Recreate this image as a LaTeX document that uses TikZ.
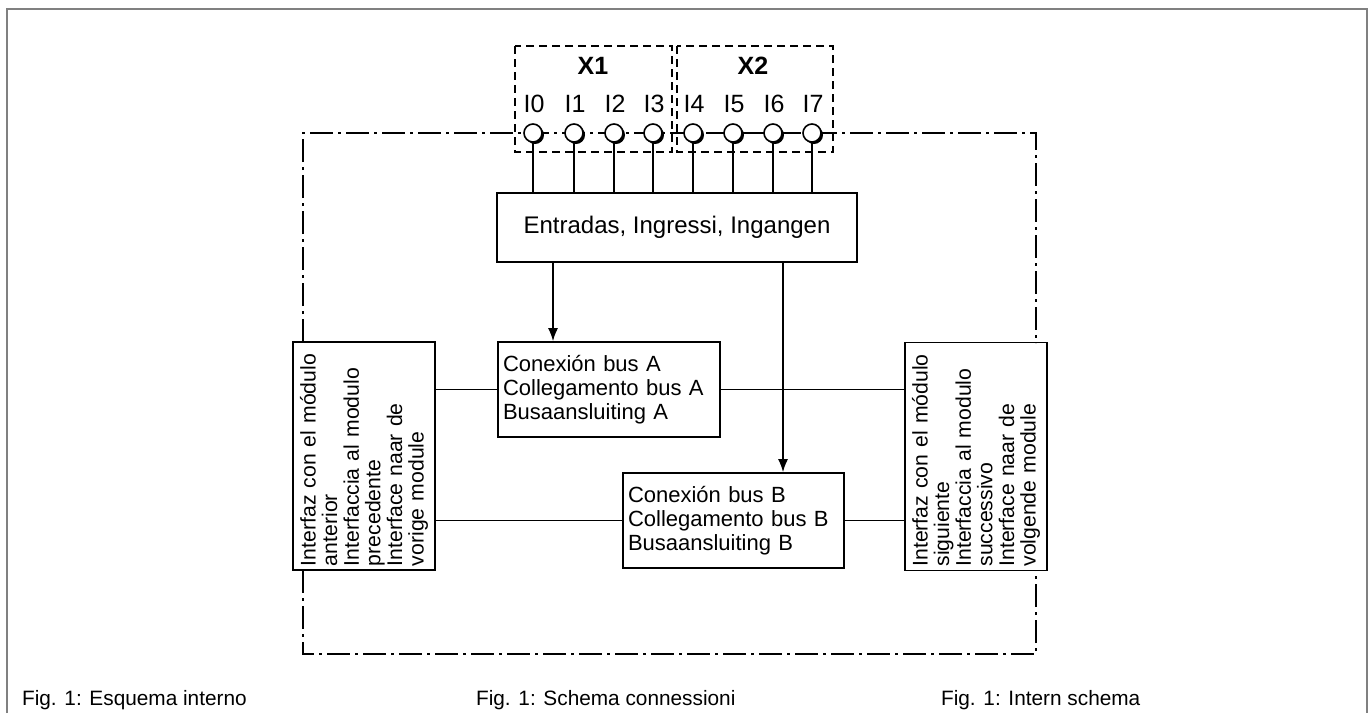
\documentclass[tikz,border=0pt]{standalone}
\usepackage{fontspec}
\setmainfont{Liberation Sans}
\usetikzlibrary{arrows.meta}

\tikzset{
  box/.style={draw, line width=0.8pt, inner sep=0pt},
  txtbox/.style={box, align=left, inner xsep=2.5pt, font=\fontsize{11}{12}\selectfont},
  sidebox/.style={box, rotate=90, align=left, inner xsep=2pt, minimum width=114pt, minimum height=71pt, text width=110pt, font=\fontsize{10.6}{10.8}\selectfont},
  ddash/.style={line width=0.7pt, dash pattern=on 11.5pt off 2.5pt on 1.5pt off 2.5pt},
  xbox/.style={line width=0.7pt, dash pattern=on 4pt off 2.5pt},
  wire/.style={line width=0.8pt},
  pin/.style={circle, draw, line width=0.8pt, fill=white, minimum size=9pt, inner sep=0pt},
  caption/.style={anchor=west, font=\fontsize{10.4}{12}\selectfont}
}

\begin{document}
\begin{tikzpicture}[x=0.5pt, y=-0.5pt]
\useasboundingbox (0,0) rectangle (1371,713);
% page frame
\draw[gray, line width=1pt] (7,713) -- (7,9) -- (1367,9) -- (1367,713);

% module outline
\draw[ddash] (303,342) -- (303,133) -- (1036,133) -- (1036,343);
\draw[ddash] (303,570) -- (303,654) -- (1036,654) -- (1036,570);

% connectors X1, X2
\draw[xbox] (515,46) rectangle (672,152);
\draw[xbox] (677,46) rectangle (833,152);
\node[font=\bfseries\fontsize{12.5}{14}\selectfont] (x1) at (593,66) {X1};
\node[font=\bfseries\fontsize{12.5}{14}\selectfont] (x2) at (753,66) {X2};

% blocks
\node[box, minimum width=180pt, minimum height=34.5pt, font=\fontsize{12}{13}\selectfont] (entr) at (677,227.5) {Entradas, Ingressi, Ingangen};
\node[txtbox, minimum width=111pt, minimum height=47.5pt, text width=106pt] (busA) at (609,389.5)
  {Conexión bus A\\Collegamento bus A\\Busaansluiting A};
\node[txtbox, minimum width=110.5pt, minimum height=47.5pt, text width=105.5pt] (busB) at (733.5,520.5)
  {Conexión bus B\\Collegamento bus B\\Busaansluiting B};
\node[sidebox] (prev) at (364,456)
  {Interfaz con el módulo\\anterior\\Interfaccia al modulo\\precedente\\Interface naar de\\vorige module};
\node[sidebox] (next) at (976,456.5)
  {Interfaz con el módulo\\siguiente\\Interfaccia al modulo\\successivo\\Interface naar de\\volgende module};

% inputs
\foreach \x [count=\i from 0] in {533,574,614,653,693,733,773,812} {
  \draw[wire] (\x,133) -- (\x,193);
  \fill (\x+2,135) circle (9);
  \node[pin] (pin\i) at (\x,133) {};
  \node[font=\fontsize{12.5}{14}\selectfont] (lab\i) at (\x+1,104) {I\i};
}

% arrows
\coordinate (ca) at (553,0);
\coordinate (cb) at (783,0);
\draw[wire, -{Latex[length=6.5pt, width=5pt]}] (ca |- entr.south) -- (ca |- busA.north);
\draw[wire, -{Latex[length=6.5pt, width=5pt]}] (cb |- entr.south) -- (cb |- busB.north);

% bus lines
\draw[wire] (busA.west) -- (busA.west -| prev.south);
\draw[wire] (busA.east) -- (busA.east -| next.north);
\draw[wire] (busB.west) -- (busB.west -| prev.south);
\draw[wire] (busB.east) -- (busB.east -| next.north);

% captions
\node[caption] (capes) at (15,700) {Fig. 1: Esquema interno};
\node[caption] (capit) at (469,700) {Fig. 1: Schema connessioni};
\node[caption] (capnl) at (934,700) {Fig. 1: Intern schema};
\end{tikzpicture}
\end{document}
